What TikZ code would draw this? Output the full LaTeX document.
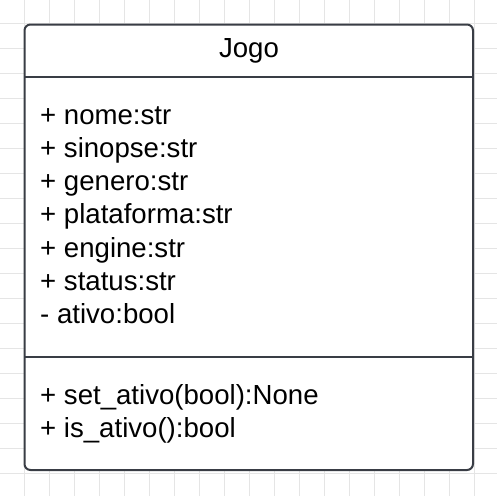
\documentclass[tikz,border=0pt]{standalone}
\usepackage{fontspec}
\setmainfont{Liberation Sans}
\usepackage{tikz}
\usetikzlibrary{calc}
\definecolor{CinzaBorda}{RGB}{57,61,69}
\definecolor{CinzaGrade}{RGB}{229,229,229}

\begin{document}
\begin{tikzpicture}[x=1pt,y=-1pt,
    membro/.style={anchor=base west,inner sep=0pt,font=\fontsize{27.6}{33}\selectfont},
    caixa/.style={draw=CinzaBorda,line width=2pt,fill=white,rounded corners=6pt}]
  \useasboundingbox (0,0) rectangle (497,496);

  % grade do fundo
  \foreach \g in {0,...,18} {
    \draw[CinzaGrade,line width=1pt] (24+25*\g,0) -- (24+25*\g,496);
    \draw[CinzaGrade,line width=1pt] (0,23+25*\g) -- (497,23+25*\g);
  }

  \coordinate (NO) at (24.5,24.5);
  \coordinate (SE) at (473,470);
  \draw[caixa] (NO) rectangle (SE);
  \coordinate (d1) at (24.5,77);
  \coordinate (d2) at (24.5,357);
  \draw[CinzaBorda,line width=2pt] (d1) -- (d1 -| SE);
  \draw[CinzaBorda,line width=2pt] (d2) -- (d2 -| SE);

  \node[membro,anchor=base] (titulo) at (249,57) {Jogo};

  \node[membro] (nome) at (40,124) {+ nome:str};
  \node[membro] (sinopse) at (40,157.3) {+ sinopse:str};
  \node[membro] (genero) at (40,190.6) {+ genero:str};
  \node[membro] (plataforma) at (40,223.9) {+ plataforma:str};
  \node[membro] (engine) at (40,257.2) {+ engine:str};
  \node[membro] (status) at (40,290.5) {+ status:str};
  \node[membro] (ativo) at (40,323.8) {- ativo:bool};

  \node[membro] (setativo) at (40,404) {+ set\_ativo(bool):None};
  \node[membro] (isativo) at (40,437.3) {+ is\_ativo():bool};
\end{tikzpicture}
\end{document}
